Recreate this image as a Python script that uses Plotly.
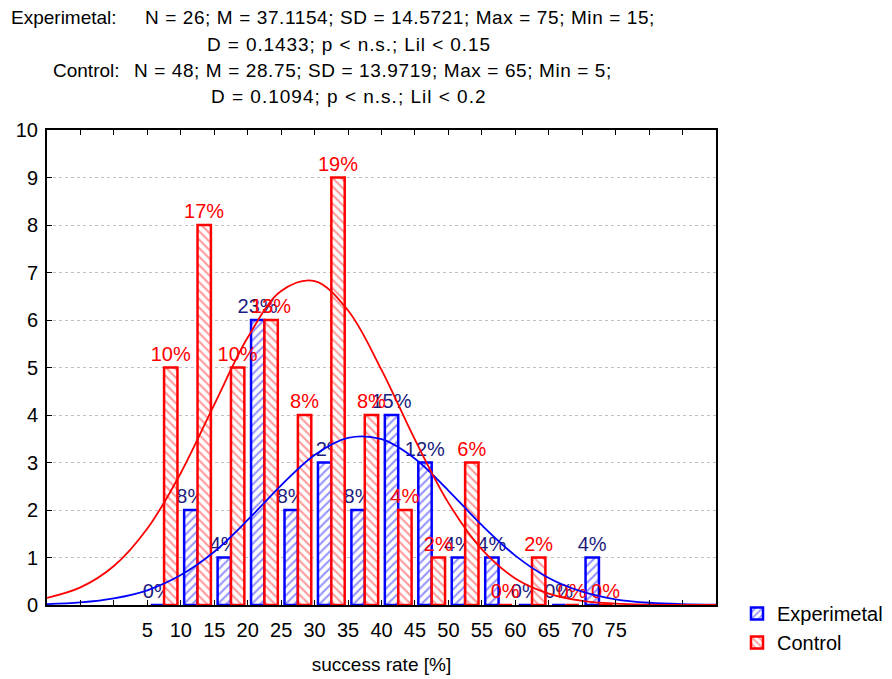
import plotly.graph_objects as go

# histogram bins (centres of the 5-wide classes)
bin_centers = [7.5, 12.5, 17.5, 22.5, 27.5, 32.5, 37.5, 42.5, 47.5, 52.5, 57.5, 62.5, 67.5, 72.5]
exp_counts = [0, 2, 1, 6, 2, 3, 2, 4, 3, 1, 1, 0, 0, 1]
ctl_counts = [5, 8, 5, 6, 4, 9, 4, 2, 1, 3, 0, 1, 0, 0]
exp_labels = ["0%", "8%", "4%", "23%", "8%", "12%", "8%", "15%", "12%", "4%", "4%", "0%", "0%", "4%"]
ctl_labels = ["10%", "17%", "10%", "13%", "8%", "19%", "8%", "4%", "2%", "6%", "0%", "2%", "0%", "0%"]

# fitted normal curves (expected counts)
curve_x = [-10, -5, 0, 5, 10, 15, 20, 25, 30, 35, 40, 45, 50, 55, 60, 65, 70, 75, 80, 85, 90]
exp_curve = [0.02, 0.055, 0.14, 0.31, 0.63, 1.12, 1.79, 2.52, 3.16, 3.52, 3.49, 3.08, 2.41,
             1.68, 1.04, 0.57, 0.28, 0.12, 0.047, 0.016, 0.005]
ctl_curve = [0.15, 0.37, 0.82, 1.61, 2.78, 4.22, 5.63, 6.61, 6.82, 6.20, 4.95, 3.48, 2.15,
             1.17, 0.56, 0.24, 0.087, 0.028, 0.008, 0.002, 0.0005]

tick_vals = [-5, 0, 5, 10, 15, 20, 25, 30, 35, 40, 45, 50, 55, 60, 65, 70, 75, 80, 85]
tick_text = ["", "", "5", "10", "15", "20", "25", "30", "35", "40", "45", "50", "55", "60", "65", "70", "75", "", ""]

FONT = "Liberation Sans, Arial, sans-serif"
OFF = 8  # page body margin of the html
W, H = 892 - OFF, 679 - OFF
L, R, T, B = 39, 176, 122, 74

fig = go.Figure()

fig.add_trace(go.Bar(
    x=bin_centers, y=exp_counts, name="Experimetal",
    text=exp_labels, textposition="outside", cliponaxis=False, constraintext="none",
    textfont=dict(color="#1c1c80", size=20, family=FONT),
    marker=dict(color="white", line=dict(color="#0000ff", width=2.5),
                pattern=dict(shape="/", fgcolor="#2a2aff", bgcolor="white", size=6, solidity=0.35)),
))
fig.add_trace(go.Bar(
    x=bin_centers, y=ctl_counts, name="Control",
    text=ctl_labels, textposition="outside", cliponaxis=False, constraintext="none",
    textfont=dict(color="#ff0000", size=20, family=FONT),
    marker=dict(color="white", line=dict(color="#ff0000", width=2.5),
                pattern=dict(shape="\\", fgcolor="#ff3030", bgcolor="white", size=6, solidity=0.35)),
))

fig.add_trace(go.Scatter(x=curve_x, y=exp_curve, mode="lines", line=dict(color="#0000ff", width=1.8, shape="spline"),
                         showlegend=False, hoverinfo="skip"))
fig.add_trace(go.Scatter(x=curve_x, y=ctl_curve, mode="lines", line=dict(color="#ff0000", width=1.8, shape="spline"),
                         showlegend=False, hoverinfo="skip"))


# screen pixel -> paper coordinates
def px(x):
    return (x - OFF - L) / (W - L - R)


def py(y):
    return (H - B - (y - OFF)) / (H - T - B)


def spaced(s, sp):
    return '<span style="letter-spacing:%.1fpx">' % sp + s + '</span>'


header = [
    ("Experimetal:", 118, 18, "right", 0.0),
    ("N = 26; M = 37.1154; SD = 14.5721; Max = 75; Min = 15;", 144, 18, "left", 0.6),
    ("D = 0.1433; p < n.s.; Lil < 0.15", 206, 44, "left", 0.9),
    ("Control:", 121, 71, "right", 0.0),
    ("N = 48; M = 28.75; SD = 13.9719; Max = 65; Min = 5;", 133, 71, "left", 0.6),
    ("D = 0.1094; p < n.s.; Lil < 0.2", 210, 96, "left", 1.0),
]
for txt, xx, yy, al, sp in header:
    fig.add_annotation(text=spaced(txt, sp), x=px(xx), y=py(yy), xref="paper", yref="paper",
                       xanchor=al, yanchor="middle", showarrow=False, borderpad=0,
                       font=dict(size=19, color="black", family=FONT))

fig.update_layout(
    width=W, height=H,
    margin=dict(l=L, r=R, t=T, b=B, autoexpand=False),
    paper_bgcolor="white", plot_bgcolor="white",
    barmode="group", bargap=0.2, bargroupgap=0,
    font=dict(family=FONT, size=19, color="black"),
    legend=dict(x=px(737), y=py(594), xanchor="left", yanchor="top",
                font=dict(size=20), bgcolor="rgba(0,0,0,0)", tracegroupgap=0),
    xaxis=dict(range=[-10, 90], tickvals=tick_vals, ticktext=tick_text, tickfont=dict(size=20),
               ticks="inside", ticklen=5, tickcolor="black", tickwidth=1,
               showline=True, linecolor="black", linewidth=2, mirror="ticks",
               showgrid=False, zeroline=False, ticklabelstandoff=6, automargin=False,
               title=dict(text="success rate [%]", font=dict(size=19), standoff=18)),
    yaxis=dict(range=[0, 10], dtick=1, ticks="inside", ticklen=5, tickcolor="black", tickfont=dict(size=20),
               showline=True, linecolor="black", linewidth=2, mirror=True,
               showgrid=True, gridcolor="#c0c0c0", griddash="dot", gridwidth=1,
               zeroline=False, ticklabelstandoff=3, automargin=False),
)

fig.write_html("out.html")
